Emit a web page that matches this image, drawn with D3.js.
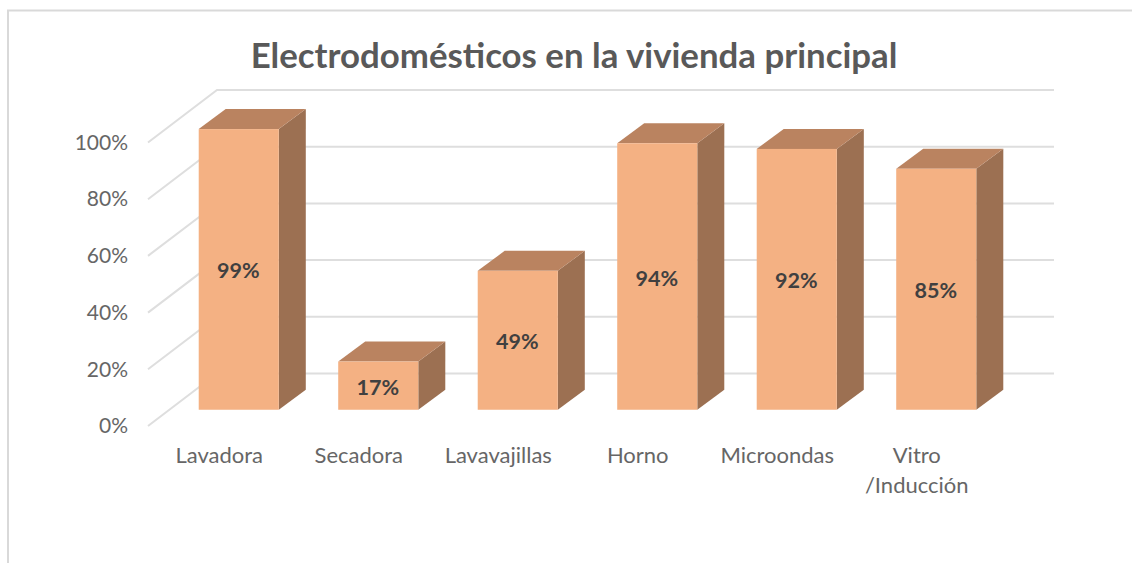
<!DOCTYPE html>
<html>
<head>
<meta charset="utf-8">
<script src="https://cdn.jsdelivr.net/npm/d3@7"></script>
<style>
  html, body { margin: 0; padding: 0; background: #fff; overflow: hidden; }
  svg { display: block; }
  text { font-family: Lato, "Open Sans", sans-serif; }
</style>
</head>
<body>
<svg id="chart" width="1132" height="563"></svg>
<script>
const categories = ["Lavadora", "Secadora", "Lavavajillas", "Horno", "Microondas", "Vitro /Inducción"];
const values = [0.99, 0.17, 0.49, 0.94, 0.92, 0.85];
const yTicks = [0, 0.2, 0.4, 0.6, 0.8, 1];
const chartTitle = "Electrodomésticos en la vivienda principal";

const width = 1132, height = 563;
const svg = d3.select("#chart");

// floor of the 3d box: front edge runs left-right, depth goes up and to the right
const floorDx = 69, floorDy = -52.5;
const barDepthDx = 27, barDepthDy = -20;
// bars sit in the middle of the floor depth
const barShiftX = (floorDx - barDepthDx) / 2,
      barShiftY = (floorDy - barDepthDy) / 2;

const x = d3.scaleBand()
    .domain(categories)
    .range([148, 985])
    .paddingInner(0.426)
    .paddingOuter(0.213);

const y = d3.scaleLinear()
    .domain([0, 1])
    .range([426, 142.5]);

// chart frame (only top and left show in the screenshot)
svg.append("path")
    .attr("d", "M8,563V10.5H1132")
    .attr("fill", "none")
    .attr("stroke", "#d9d9d9")
    .attr("stroke-width", 2);

svg.append("text")
    .attr("x", 574)
    .attr("y", 68)
    .attr("text-anchor", "middle")
    .attr("font-size", 34.8)
    .attr("font-weight", 700)
    .attr("fill", "#595959")
    .text(chartTitle);

// gridlines, side wall and back wall
const grid = svg.append("g").attr("fill", "none").attr("stroke", "#dedede").attr("stroke-width", 2);
grid.selectAll("path")
    .data(yTicks)
    .join("path")
    .attr("d", d => {
        let p = d3.path();
        p.moveTo(x.range()[0], y(d));
        p.lineTo(x.range()[0] + floorDx, y(d) + floorDy);
        p.lineTo(x.range()[1] + floorDx, y(d) + floorDy);
        return p.toString();
    });

// axes
const yAxis = svg.append("g")
    .attr("transform", "translate(128,0)")
    .call(d3.axisLeft(y).tickValues(yTicks).tickFormat(d3.format(".0%")).tickSize(0).tickPadding(0));
yAxis.select(".domain").remove();
yAxis.selectAll("text")
    .attr("font-size", 21)
    .attr("fill", "#666666")
    .style("font-family", "Lato, sans-serif");

const xAxis = svg.append("g")
    .attr("transform", "translate(1.5,426)")
    .call(d3.axisBottom(x).tickSize(0).tickPadding(21));
xAxis.select(".domain").remove();
xAxis.selectAll("text")
    .attr("font-size", 22)
    .attr("fill", "#666666")
    .style("font-family", "Lato, sans-serif")
    .each(function(d) {
        let parts = d.split(" ");
        let el = d3.select(this).text(null);
        parts.forEach((s, i) => {
            el.append("tspan").attr("x", 0).attr("dy", i ? 30 : "0.71em").text(s);
        });
    });

// bars
const bars = svg.append("g")
    .selectAll("g")
    .data(values)
    .join("g")
    .attr("transform", `translate(${barShiftX},${barShiftY})`);

const bw = x.bandwidth();

bars.append("path") // side
    .attr("fill", "#9c7052")
    .attr("d", (d, i) => {
        let x1 = x(categories[i]) + bw;
        return d3.line()([
            [x1, y(0)], [x1, y(d)],
            [x1 + barDepthDx, y(d) + barDepthDy], [x1 + barDepthDx, y(0) + barDepthDy]
        ]) + "Z";
    });

bars.append("path") // top
    .attr("fill", "#ba8360")
    .attr("d", (d, i) => {
        let x0 = x(categories[i]);
        return d3.line()([
            [x0, y(d)], [x0 + bw, y(d)],
            [x0 + bw + barDepthDx, y(d) + barDepthDy], [x0 + barDepthDx, y(d) + barDepthDy]
        ]) + "Z";
    });

bars.append("rect") // front
    .attr("fill", "#f4b183")
    .attr("x", (d, i) => x(categories[i]))
    .attr("y", d => y(d))
    .attr("width", bw)
    .attr("height", d => y(0) - y(d));

bars.append("text")
    .attr("x", (d, i) => x(categories[i]) + bw / 2 - 0.5)
    .attr("y", d => y(d / 2) + 9)
    .attr("text-anchor", "middle")
    .attr("font-size", 21.5)
    .attr("font-weight", 700)
    .attr("fill", "#404040")
    .text(d => d3.format(".0%")(d));
</script>
</body>
</html>
